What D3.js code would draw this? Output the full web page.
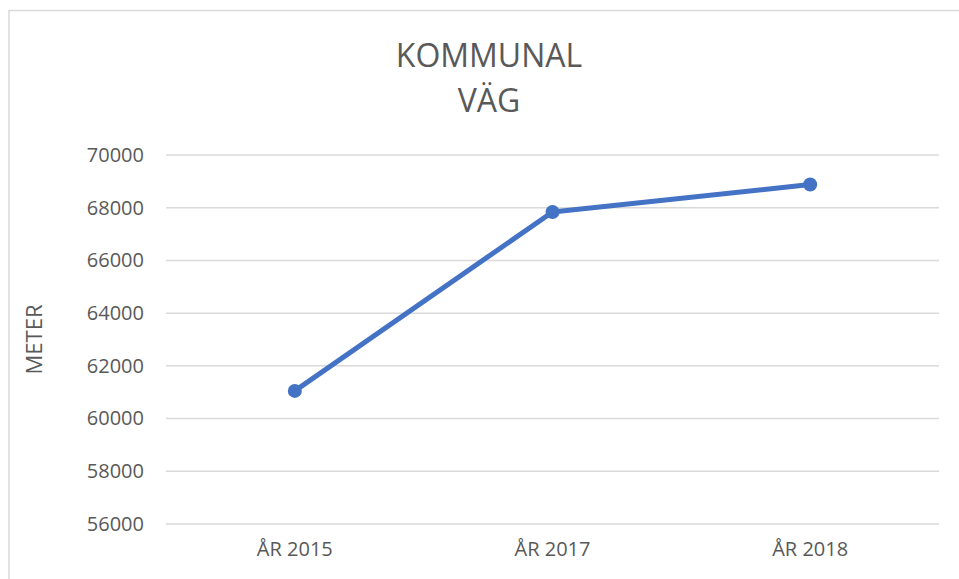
<!DOCTYPE html>
<html>
<head>
<meta charset="utf-8">
<script src="https://cdn.jsdelivr.net/npm/d3@7"></script>
<style>
  body { margin: 0; background: #fff; }
  svg { display: block; font-family: "Open Sans", sans-serif; }
</style>
</head>
<body>
<div id="chart"></div>
<script>
// data
const categories = ['ÅR 2015', 'ÅR 2017', 'ÅR 2018'];
const values = [61050, 67840, 68880];
const yTicks = [56000, 58000, 60000, 62000, 64000, 66000, 68000, 70000];
const titleLines = ['KOMMUNAL', 'VÄG'];

const W = 959, H = 579;
const margin = {top: 155, right: 20, bottom: 55, left: 166};
const plotW = 939 - margin.left;
const plotH = 524 - margin.top;

const svg = d3.select('#chart')
  .append('svg')
  .attr('width', W)
  .attr('height', H);

// chart border (only top and left edges show in the frame)
svg.append('rect')
  .attr('x', 9).attr('y', 10.5)
  .attr('width', W + 20).attr('height', H + 20)
  .attr('fill', 'none')
  .attr('stroke', '#d9d9d9')
  .attr('stroke-width', 1.5);

const g = svg.append('g')
  .attr('transform', `translate(${margin.left},${margin.top})`);

const x = d3.scaleBand().domain(categories).range([0, plotW]);
const y = d3.scaleLinear().domain([56000, 70000]).range([plotH, 0]);

// gridlines
g.selectAll('.grid')
  .data(yTicks)
  .enter()
  .append('line')
  .attr('class', 'grid')
  .attr('x1', 0).attr('x2', plotW)
  .attr('y1', d => y(d)).attr('y2', d => y(d))
  .attr('stroke', '#d9d9d9')
  .attr('stroke-width', 1.5);

// y axis labels
const yAxis = g.append('g')
  .call(d3.axisLeft(y).tickValues(yTicks).tickFormat(d => d).tickSize(0).tickPadding(22));
yAxis.select('.domain').remove();
yAxis.selectAll('text')
  .attr('fill', '#595959')
  .style('font-size', '20px')
  .style('font-family', '"Open Sans", sans-serif');

// x axis labels
const xAxis = g.append('g')
  .attr('transform', `translate(0,${plotH})`)
  .call(d3.axisBottom(x).tickSize(0).tickPadding(18));
xAxis.select('.domain').remove();
xAxis.selectAll('text')
  .attr('fill', '#595959')
  .style('font-size', '20px')
  .style('font-family', '"Open Sans", sans-serif');

// line
const line = d3.line()
  .x((d, i) => x(categories[i]) + x.bandwidth() / 2)
  .y(d => y(d));

g.append('path')
  .datum(values)
  .attr('d', line)
  .attr('fill', 'none')
  .attr('stroke', '#4472c4')
  .attr('stroke-width', 5)
  .attr('stroke-linejoin', 'round');

g.selectAll('.dot')
  .data(values)
  .enter()
  .append('circle')
  .attr('class', 'dot')
  .attr('cx', (d, i) => x(categories[i]) + x.bandwidth() / 2)
  .attr('cy', d => y(d))
  .attr('r', 7)
  .attr('fill', '#4472c4');

// title
svg.append('text')
  .attr('x', 489)
  .attr('text-anchor', 'middle')
  .attr('fill', '#595959')
  .style('font-size', '32px')
  .selectAll('tspan')
  .data(titleLines)
  .enter()
  .append('tspan')
  .attr('x', 489)
  .attr('y', (d, i) => 67 + i * 45)
  .text(d => d);

// y axis title
svg.append('text')
  .attr('transform', `translate(42,${margin.top + plotH / 2}) rotate(-90)`)
  .attr('text-anchor', 'middle')
  .attr('fill', '#595959')
  .style('font-size', '22px')
  .text('METER');
</script>
</body>
</html>
